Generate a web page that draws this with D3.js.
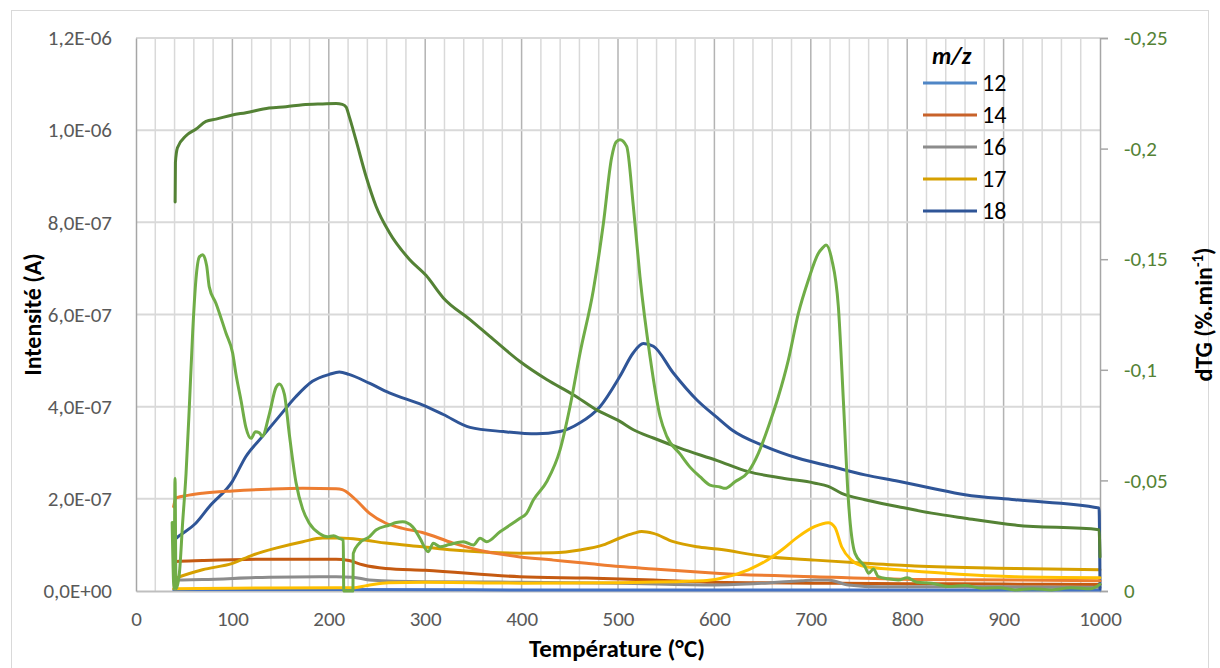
<!DOCTYPE html>
<html>
<head>
<meta charset="utf-8">
<script src="https://cdn.jsdelivr.net/npm/d3@7"></script>
<style>
  body { margin: 0; background: #fff; }
  text { font-family: Carlito, Calibri, "Liberation Sans", sans-serif; }
</style>
</head>
<body>
<div id="chart-area"></div>
<script>
// intensities are stored in units of 1e-7 A, dTG in %.min-1
const xTicks = [0, 100, 200, 300, 400, 500, 600, 700, 800, 900, 1000];
const leftTicks = [0, 2, 4, 6, 8, 10, 12];
const rightTicks = [0, -0.05, -0.1, -0.15, -0.2, -0.25];

const mz12 = [[39, 0.03], [200, 0.03], [500, 0.02], [800, 0.02], [1000, 0.02]];

const mz14 = [[39, 0.6], [41.5, 0.64], [69, 0.66], [138, 0.69], [207.5, 0.69], [221, 0.66], [235, 0.57],
  [259, 0.49], [300, 0.45], [398, 0.31], [467.5, 0.28], [536.7, 0.24], [600, 0.19], [700, 0.17],
  [800, 0.16], [900, 0.15], [1000, 0.14]];

const mz16 = [[39, 0.22], [41.5, 0.24], [69, 0.25], [138, 0.3], [207.5, 0.31], [224.8, 0.3], [242, 0.24],
  [300, 0.2], [400, 0.19], [500, 0.17], [600, 0.13], [652.5, 0.17], [690, 0.22], [704, 0.24],
  [718, 0.24], [739, 0.13], [773, 0.09], [900, 0.09], [1000, 0.08]];

const mz17 = [[39, 0.26], [41.5, 0.28], [69, 0.46], [100, 0.6], [121, 0.78], [145, 0.93], [173, 1.07],
  [193.6, 1.15], [211, 1.15], [235, 1.11], [259, 1.04], [297, 0.96], [329, 0.89], [363.8, 0.84],
  [398, 0.82], [432.9, 0.83], [460.6, 0.89], [484.8, 1.0], [502, 1.15], [515.9, 1.25], [524.6, 1.29],
  [536.7, 1.25], [557.4, 1.07], [581.6, 0.96], [603, 0.91], [652.5, 0.75], [704.4, 0.67],
  [756.2, 0.6], [808, 0.54], [911.9, 0.49], [1000, 0.46]];

const mz18 = [[42, 1.15], [45, 1.2], [62, 1.47], [76, 1.83], [100, 2.38], [114, 2.92], [131, 3.35],
  [149, 3.8], [166, 4.22], [183, 4.55], [200.6, 4.7], [211, 4.75], [221, 4.7], [242, 4.51],
  [262.8, 4.3], [297, 4.04], [318.8, 3.83], [346.5, 3.55], [381, 3.46], [415.6, 3.41], [439.8, 3.46],
  [460.6, 3.65], [481.3, 4.0], [502, 4.66], [515.9, 5.17], [526.3, 5.37], [536.7, 5.31],
  [557.4, 4.73], [581.6, 4.15], [603, 3.76], [617.9, 3.5], [652.5, 3.14], [687.1, 2.88],
  [721.7, 2.7], [756.2, 2.52], [790.8, 2.38], [825.4, 2.23], [860, 2.09], [911.9, 1.98],
  [999, 1.8], [1000, 0.05]];

// unlabelled curves
const orangeB = [[39, 1.83], [41.5, 2.02], [55, 2.08], [69, 2.12], [100, 2.17], [138, 2.21], [173, 2.23],
  [207.5, 2.22], [214, 2.2], [217.8, 2.16], [228, 1.98], [242, 1.69], [259.3, 1.47], [276.6, 1.36],
  [297, 1.27], [329, 1.04], [363.8, 0.85], [398.3, 0.74], [432.9, 0.67], [467.5, 0.6], [502, 0.53],
  [536.7, 0.48], [571.2, 0.43], [605.8, 0.38], [704.4, 0.31], [808, 0.25], [911.9, 0.24], [1000, 0.22]];

const yellowB = [[39, 0.05], [100, 0.06], [207.5, 0.07], [225, 0.07], [240, 0.12], [262, 0.18],
  [300, 0.19], [400, 0.17], [500, 0.18], [588.5, 0.22], [605.8, 0.27], [635.2, 0.46], [652.5, 0.64],
  [669.8, 0.89], [687.1, 1.18], [704.4, 1.4], [718.2, 1.48], [725, 1.38], [732, 0.96], [742.3, 0.67],
  [756.2, 0.53], [790.8, 0.46], [842.7, 0.38], [911.9, 0.31], [1000, 0.29]];

const greenD = [[40.6, 8.44], [40.9, 9.3], [43, 9.62], [51.9, 9.88], [62, 10.02], [72.6, 10.19],
  [83, 10.24], [100, 10.33], [114, 10.38], [138, 10.48], [155.6, 10.51], [173, 10.55], [193.6, 10.57],
  [207.5, 10.58], [214, 10.56], [218, 10.5], [221, 10.31], [228, 9.8], [238.6, 9.0], [249, 8.35],
  [262.8, 7.78], [283.5, 7.2], [300.8, 6.85], [318.8, 6.36], [346.5, 5.89], [370.7, 5.46],
  [398.3, 4.98], [426, 4.59], [453.7, 4.26], [477.9, 3.93], [502, 3.68], [515.9, 3.5], [536.7, 3.32],
  [564.3, 3.1], [603, 2.83], [635.2, 2.59], [669.8, 2.45], [704.4, 2.34], [718.2, 2.27], [732, 2.12],
  [756.2, 1.98], [790.8, 1.83], [825.4, 1.69], [860, 1.58], [911.9, 1.43], [999, 1.33], [1000, 0.74]];

const dtg = [[37.5, -0.031], [39.5, -0.001], [40.5, -0.051], [41.5, -0.001], [45, -0.008], [48.4, -0.031],
  [51.9, -0.053], [55.3, -0.083], [58.8, -0.117], [62.2, -0.141], [65.7, -0.151], [69.2, -0.152],
  [73.3, -0.147], [76, -0.1375], [83, -0.13], [93.4, -0.1165], [100.3, -0.1075], [103.7, -0.098],
  [109, -0.086], [114, -0.074], [119.3, -0.069], [124, -0.072], [128, -0.0715], [131, -0.07],
  [138.3, -0.08], [145.2, -0.092], [148.7, -0.0936], [153.9, -0.089], [159, -0.071], [166, -0.049],
  [172.9, -0.037], [179.8, -0.0306], [190.2, -0.026], [198.8, -0.0245], [205, -0.025], [210.9, -0.0238],
  [215, -0.023], [215.5, 0], [225, 0], [225.4, -0.017], [231.7, -0.0216], [242, -0.0245],
  [249, -0.0276], [262.8, -0.0298], [270, -0.031], [276.6, -0.0313], [287, -0.029], [294.6, -0.0238],
  [303.2, -0.0178], [308.4, -0.0216], [315.4, -0.02], [325, -0.021], [339.6, -0.0223], [350, -0.0208],
  [356.9, -0.0238], [363.8, -0.0223], [377.6, -0.0268], [388, -0.0298], [398.3, -0.0329], [405, -0.035],
  [412.2, -0.0411], [426, -0.0494], [439.8, -0.0637], [450.2, -0.0833], [460.6, -0.1075],
  [474.4, -0.136], [484.8, -0.166], [493.4, -0.196], [498, -0.203], [502, -0.204], [509, -0.201],
  [515.9, -0.174], [522.8, -0.142], [533.2, -0.106], [543.6, -0.079], [550.5, -0.07], [564.3, -0.062],
  [574.7, -0.056], [585, -0.0517], [595.4, -0.0479], [605.8, -0.047], [611, -0.0464], [621.4, -0.0494],
  [635.2, -0.0539], [645.6, -0.0622], [656, -0.0743], [666.3, -0.0878], [676.7, -0.1044],
  [687.1, -0.1255], [697.5, -0.1406], [707.9, -0.1527], [712, -0.155], [715.8, -0.1564],
  [721.7, -0.15], [728.6, -0.1285], [733.8, -0.086], [739, -0.041], [745.9, -0.017], [756.2, -0.011],
  [760, -0.008], [765, -0.01], [770, -0.0065], [780, -0.0055], [790.8, -0.005], [800, -0.006],
  [810, -0.004], [825.4, -0.0035], [842.7, -0.002], [860, -0.0025], [877.3, -0.0012], [895, -0.0015],
  [911.9, -0.0005], [930, -0.001], [950, -0.0005], [970, -0.0015], [990, -0.001], [1000, -0.003]];

const legendLabels = ["12", "14", "16", "17", "18"];

let svgW = 1220;
let svgH = 668;

let svg = d3.select("#chart-area")
  .append("svg")
  .attr("width", svgW)
  .attr("height", svgH)

svg.append("rect")
  .attr("x", 11.5).attr("y", 10.5)
  .attr("width", 1197).attr("height", 700)
  .attr("fill", "#fff")
  .attr("stroke", "#d9d9d9")

let x = d3.scaleLinear().domain([0, 1000]).range([136, 1100]);
let yL = d3.scaleLinear().domain([0, 12]).range([591, 38]);
let yR = d3.scaleLinear().domain([0, -0.25]).range([591, 38]);

// grid
let grid = svg.append("g");
grid.selectAll(".vminor")
  .data(d3.range(20, 1000, 20).filter(d => d % 100 != 0))
  .enter().append("line")
  .attr("x1", d => x(d)).attr("x2", d => x(d))
  .attr("y1", yL(12)).attr("y2", yL(0))
  .attr("stroke", "#d9d9d9").attr("stroke-width", 1.5)
grid.selectAll(".vmajor")
  .data(xTicks.slice(1, -1))
  .enter().append("line")
  .attr("x1", d => x(d)).attr("x2", d => x(d))
  .attr("y1", yL(12)).attr("y2", yL(0))
  .attr("stroke", "#b3b3b3").attr("stroke-width", 1.5)
grid.selectAll(".h")
  .data(leftTicks.slice(1))
  .enter().append("line")
  .attr("x1", x(0)).attr("x2", x(1000))
  .attr("y1", d => yL(d)).attr("y2", d => yL(d))
  .attr("stroke", "#d9d9d9").attr("stroke-width", 2)

const sci = v => {
  let s = (v * 1e-7).toExponential(1).split("e");
  let e = +s[1];
  return s[0].replace(".", ",") + "E" + (e < 0 ? "-" : "+") + String(Math.abs(e)).padStart(2, "0");
}

let gx = svg.append("g")
  .attr("transform", `translate(0, ${yL(0)})`)
  .call(d3.axisBottom(x).tickValues(xTicks).tickFormat(d => String(d)).tickSize(0).tickPadding(20))
gx.select(".domain").attr("stroke", "#bfbfbf").attr("stroke-width", 2)

let gl = svg.append("g")
  .attr("transform", `translate(${x(0)}, 0)`)
  .call(d3.axisLeft(yL).tickValues(leftTicks).tickFormat(sci).tickSize(0).tickPadding(24))
gl.select(".domain").attr("stroke", "#a6a6a6").attr("stroke-width", 1.5)

let gr = svg.append("g")
  .attr("transform", `translate(${x(1000)}, 0)`)
  .call(d3.axisRight(yR).tickValues(rightTicks)
    .tickFormat(d => String(d).replace(".", ",")).tickSize(8).tickPadding(16))
gr.select(".domain").attr("stroke", "#a6a6a6").attr("stroke-width", 1.5)
gr.selectAll(".tick line").attr("stroke", "#a6a6a6").attr("stroke-width", 1.5)

svg.selectAll(".tick text")
  .attr("font-size", 21)
  .attr("font-family", "Carlito, Calibri, 'Liberation Sans', sans-serif")
  .attr("fill", "#595959")
gr.selectAll(".tick text").attr("fill", "#548235")

// titles
svg.append("text")
  .attr("x", 617).attr("y", 657)
  .attr("text-anchor", "middle")
  .attr("font-size", 25).attr("font-weight", "bold")
  .text("Température (°C)")

svg.append("text")
  .attr("transform", `translate(41, ${(38 + 591) / 2}) rotate(-90)`)
  .attr("text-anchor", "middle")
  .attr("font-size", 24).attr("font-weight", "bold")
  .text("Intensité (A)")

let rt = svg.append("text")
  .attr("transform", `translate(1212, ${(38 + 591) / 2}) rotate(-90)`)
  .attr("text-anchor", "middle")
  .attr("font-size", 24).attr("font-weight", "bold")
rt.append("tspan").text("dTG (%.min")
rt.append("tspan").attr("dy", -9).attr("font-size", 15).text("-1")
rt.append("tspan").attr("dy", 9).text(")")

// curves
const series = [
  { data: mz12, color: "#4472c4", axis: yL },
  { data: mz14, color: "#c55a11", axis: yL },
  { data: mz16, color: "#8c8c8c", axis: yL },
  { data: mz17, color: "#d6a000", axis: yL },
  { data: mz18, color: "#2f5597", axis: yL },
  { data: orangeB, color: "#ed7d31", axis: yL },
  { data: yellowB, color: "#ffc000", axis: yL },
  { data: greenD, color: "#548235", axis: yL },
  { data: dtg, color: "#70ad47", axis: yR }
];

let plot = svg.append("g");
series.forEach(s => {
  let line = d3.line()
    .x(d => x(d[0]))
    .y(d => s.axis(d[1]))
    .curve(d3.curveMonotoneX);
  plot.append("path")
    .datum(s.data)
    .attr("d", line)
    .attr("fill", "none")
    .attr("stroke", s.color)
    .attr("stroke-width", 3)
    .attr("stroke-linejoin", "round")
    .attr("stroke-linecap", "round")
});

// legend
let legendColors = ["#4f86c6", "#c8622a", "#8c8c8c", "#d6a000", "#2f5597"];
let lg = svg.append("g");
lg.append("text")
  .attr("x", 932).attr("y", 64)
  .attr("font-size", 24).attr("font-weight", "bold").attr("font-style", "italic")
  .text("m/z")
legendLabels.forEach((l, i) => {
  let yy = 83 + i * 32;
  lg.append("line")
    .attr("x1", 923).attr("x2", 977)
    .attr("y1", yy).attr("y2", yy)
    .attr("stroke", legendColors[i]).attr("stroke-width", 3)
  lg.append("text")
    .attr("x", 982).attr("y", yy + 8)
    .attr("font-size", 24)
    .text(l)
});
</script>
</body>
</html>
